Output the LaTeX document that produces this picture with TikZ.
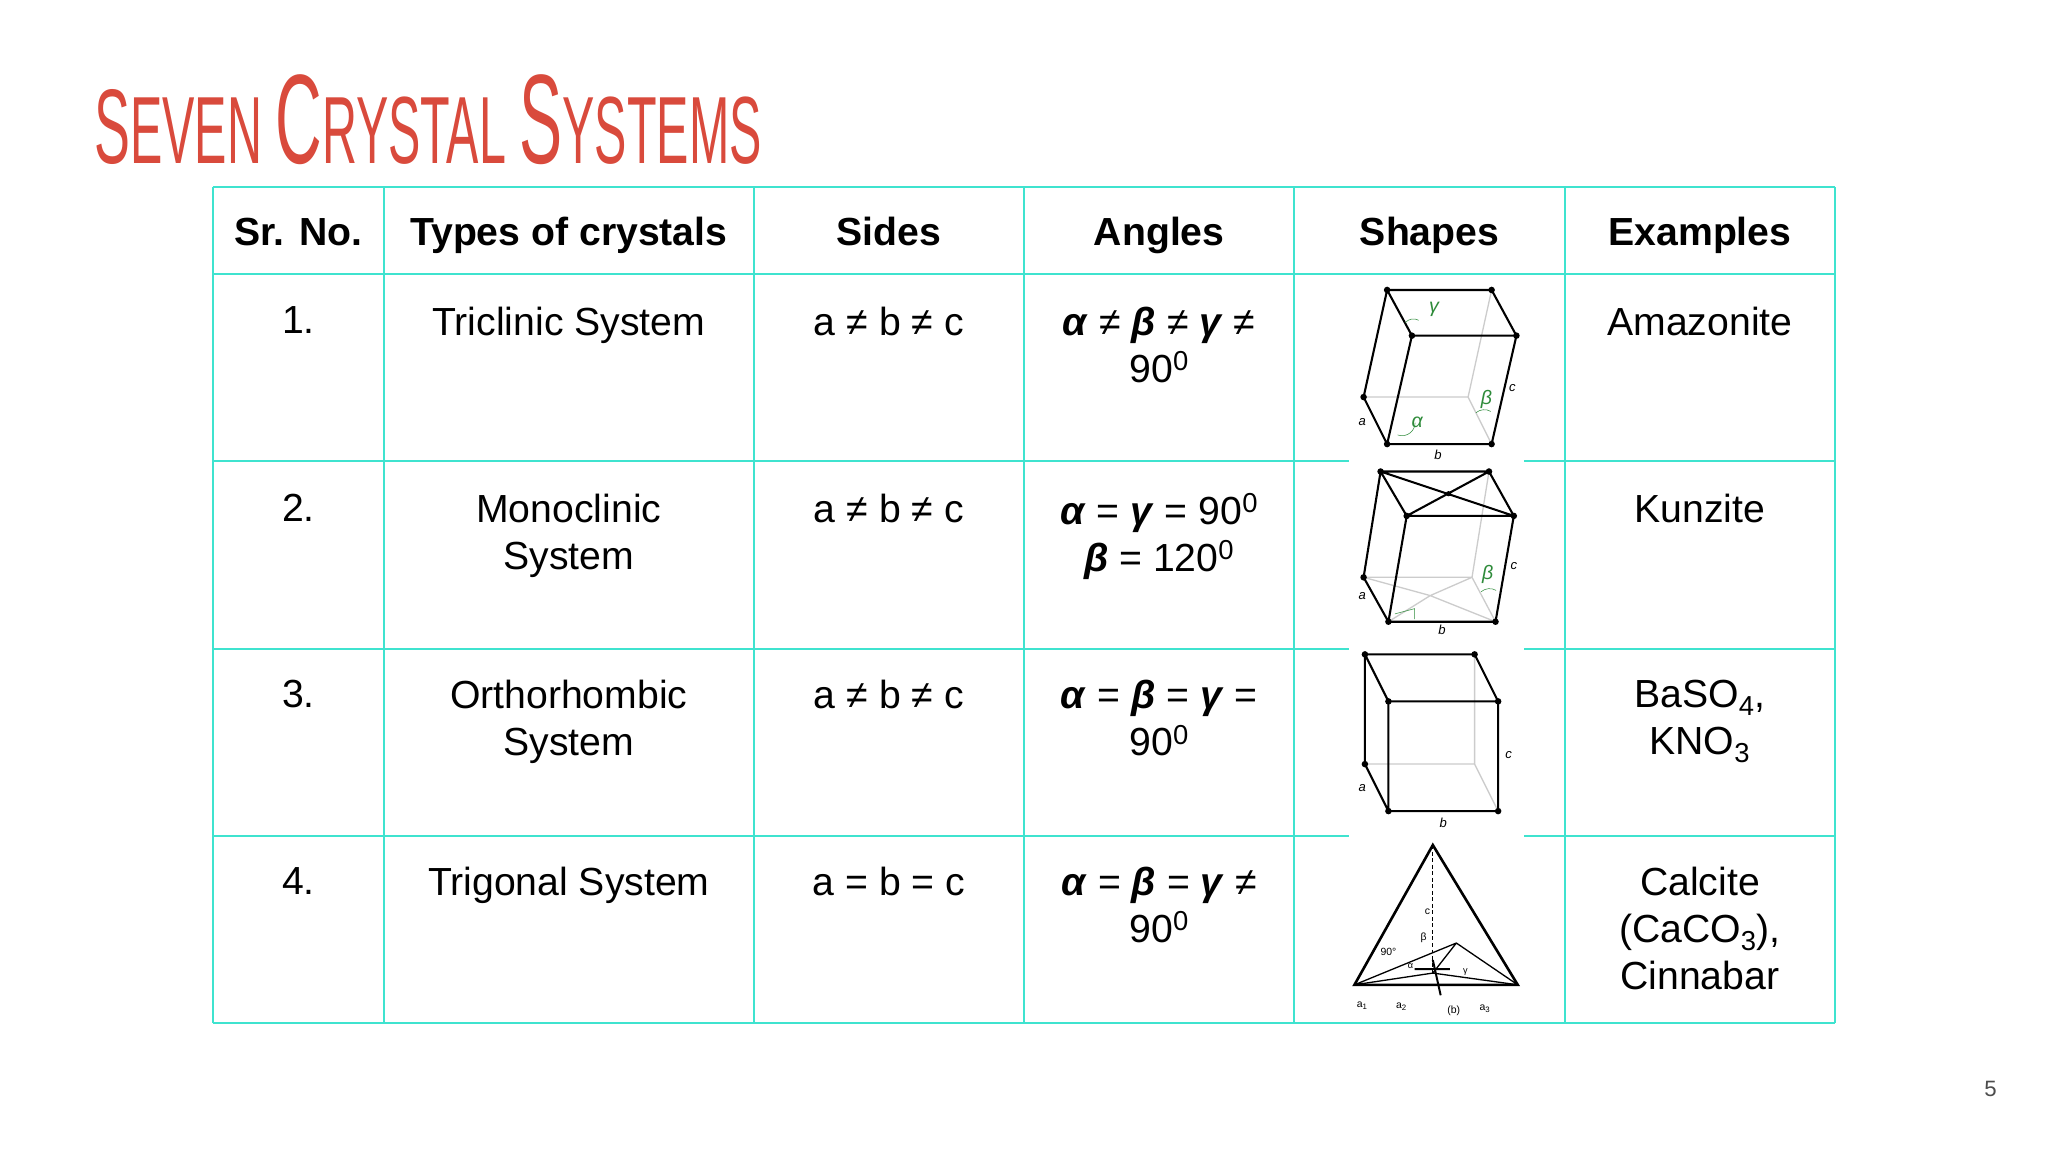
\documentclass[tikz,border=0pt]{standalone}
\usepackage{fontspec}
\setmainfont{Liberation Sans}
\newfontfamily\titlefont{Liberation Sans}
\definecolor{grid}{HTML}{3FE3CF}
\definecolor{ttl}{HTML}{D94A3C}
\definecolor{grn}{HTML}{2E8B3A}
\begin{document}
\begin{tikzpicture}[x=1pt,y=-1pt,
  cell/.style={font=\fontsize{30}{36}\selectfont,align=center,anchor=north},
  head/.style={font=\bfseries\fontsize{30}{36}\selectfont,anchor=base},
  ed/.style={line width=1.6pt,black},
  hid/.style={line width=1pt,gray!40},
  vt/.style={circle,fill=black,inner sep=0pt,minimum size=5pt},
  lbl/.style={font=\itshape\fontsize{10}{10}\selectfont,inner sep=0pt},
  glbl/.style={font=\itshape\fontsize{15}{15}\selectfont,text=grn,inner sep=0pt}]
\useasboundingbox (0,0) rectangle (1568,882);
\fill[white] (0,0) rectangle (1568,882);
% title
\node[anchor=west,text=ttl,inner sep=0pt] (title) at (72,92) {\resizebox{511pt}{68pt}{\titlefont S\fontsize{9}{9}\selectfont EVEN\ \fontsize{12}{12}\selectfont C\fontsize{9}{9}\selectfont RYSTAL\ \fontsize{12}{12}\selectfont S\fontsize{9}{9}\selectfont YSTEMS}};
% grid
\foreach \x in {163,294,577,784,991,1198,1405} \draw[grid,line width=1.5pt] (\x,143) -- (\x,783);
\foreach \y in {143,210,353,497,640,783} \draw[grid,line width=1.5pt] (163,\y) -- (1405,\y);
\fill[white] (1033,211) rectangle (1167,782);
% headers
\node[head] (h1) at (228.5,188) {Sr. No.};
\node[head] (h2) at (435.5,188) {Types of crystals};
\node[head] (h3) at (680.5,188) {Sides};
\node[head] (h4) at (887.5,188) {Angles};
\node[head] (h5) at (1094.5,188) {Shapes};
\node[head] (h6) at (1301.5,188) {Examples};
% rows
\foreach \r/\y in {1/231.5,2/374.5,3/517.5,4/660.5} \node[cell] (n\r) at (228.5,\y) {\r.};
\node[cell] (t1) at (435.5,231.5) {Triclinic System};
\node[cell] (t2) at (435.5,374.5) {Monoclinic\\System};
\node[cell] (t3) at (435.5,517.5) {Orthorhombic\\System};
\node[cell] (t4) at (435.5,660.5) {Trigonal System};
\node[cell] (s1) at (680.5,231.5) {a ≠ b ≠ c};
\node[cell] (s2) at (680.5,374.5) {a ≠ b ≠ c};
\node[cell] (s3) at (680.5,517.5) {a ≠ b ≠ c};
\node[cell] (s4) at (680.5,660.5) {a = b = c};
\def\ga{\textbf{\textit{α}}}\def\gb{\textbf{\textit{β}}}\def\gc{\textbf{\textit{γ}}}
\node[cell] (a1) at (887.5,231.5) {\ga{} ≠ \gb{} ≠ \gc{} ≠\\90\textsuperscript{0}};
\node[cell] (a2) at (887.5,374.5) {\ga{} = \gc{} = 90\textsuperscript{0}\\\gb{} = 120\textsuperscript{0}};
\node[cell] (a3) at (887.5,517.5) {\ga{} = \gb{} = \gc{} =\\90\textsuperscript{0}};
\node[cell] (a4) at (887.5,660.5) {\ga{} = \gb{} = \gc{} ≠\\90\textsuperscript{0}};
\node[cell] (e1) at (1301.5,231.5) {Amazonite};
\node[cell] (e2) at (1301.5,374.5) {Kunzite};
\node[cell] (e3) at (1301.5,517.5) {BaSO\textsubscript{4},\\KNO\textsubscript{3}};
\node[cell] (e4) at (1301.5,660.5) {Calcite\\(CaCO\textsubscript{3}),\\Cinnabar};
% triclinic
\coordinate (A) at (1062,222); \coordinate (B) at (1142,222);
\coordinate (C) at (1081,257); \coordinate (D) at (1161,257);
\coordinate (E) at (1044,304); \coordinate (F) at (1124,304);
\coordinate (G) at (1062,340); \coordinate (H) at (1142,340);
\draw[hid] (B)--(F) (E)--(F)--(H);
\draw[ed] (A)--(B)--(D)--(C)--cycle (A)--(E)--(G)--(H)--(D) (C)--(G);
\foreach \p in {A,B,C,D,E,G,H} \node[vt] at (\p) {};
\draw[grn,thin] (1076,247) arc (220:300:8);
\draw[grn,thin] (1070,333) arc (110:0:10);
\draw[grn,thin] (1130,316) arc (230:300:10);
\node[glbl] (gg) at (1098,237) {γ};
\node[glbl] (gb) at (1138,306) {β};
\node[glbl] (gal) at (1085,323) {α};
\node[lbl] (lc1) at (1158,297) {c};
\node[lbl] (la1) at (1043,323) {a};
\node[lbl] (lb1) at (1101,348) {b};
% monoclinic
\coordinate (A) at (1057,361); \coordinate (B) at (1140,361);
\coordinate (C) at (1077,395); \coordinate (D) at (1159,395);
\coordinate (E) at (1044,442); \coordinate (F) at (1127,442);
\coordinate (G) at (1063,476); \coordinate (H) at (1145,476);
\draw[hid] (B)--(F) (E)--(F)--(H) (E)--(1095,456)--(H) (G)--(1095,456)--(F);
\draw[ed] (A)--(B)--(D)--(C)--cycle (A)--(E)--(G)--(H)--(D) (C)--(G) (A)--(D) (B)--(C);
\foreach \p in {A,B,C,D,E,G,H} \node[vt] at (\p) {};
\node[vt,minimum size=4pt] at (1109,378) {};
\draw[grn,thin] (1068,470) -- (1083,466) -- (1083,474);
\draw[grn,thin] (1134,453) arc (230:300:10);
\node[glbl] (gb2) at (1139,440) {β};
\node[lbl] (lc2) at (1159,433) {c};
\node[lbl] (la2) at (1043,456) {a};
\node[lbl] (lb2) at (1104,482) {b};
% orthorhombic
\coordinate (A) at (1045,501); \coordinate (B) at (1129,501);
\coordinate (C) at (1063,537); \coordinate (D) at (1147,537);
\coordinate (E) at (1045,585); \coordinate (F) at (1129,585);
\coordinate (G) at (1063,621); \coordinate (H) at (1147,621);
\draw[hid] (B)--(F) (E)--(F)--(H);
\draw[ed] (A)--(B)--(D)--(C)--cycle (A)--(E)--(G)--(H)--(D) (C)--(G);
\foreach \p in {A,B,C,D,E,G,H} \node[vt] at (\p) {};
\node[lbl] (lc3) at (1155,578) {c};
\node[lbl] (la3) at (1043,603) {a};
\node[lbl] (lb3) at (1105,630) {b};
% trigonal
\coordinate (T) at (1097,647); \coordinate (L) at (1037,754);
\coordinate (R) at (1162,754); \coordinate (M) at (1097,745);
\coordinate (Q) at (1115,722);
\draw[ed,line width=2pt] (L)--(T)--(R)--cycle;
\draw[black,line width=1pt,densely dashed] (T)--(M);
\draw[black,line width=1pt] (L)--(Q)--(R) (L)--(M)--(R) (M)--(Q);
\draw[black,line width=1.5pt] (1083,742)--(1110,742) (1097,735)--(1103,762);
\node[lbl,font=\fontsize{8}{8}\selectfont] (tc) at (1093,698) {c};
\node[lbl,font=\fontsize{8}{8}\selectfont] (tbeta) at (1090,718) {β};
\node[lbl,font=\fontsize{8}{8}\selectfont] (t90) at (1063,729) {90°};
\node[lbl,font=\fontsize{7}{7}\selectfont] (tal) at (1080,740) {α};
\node[lbl,font=\fontsize{7}{7}\selectfont] (tgam) at (1122,744) {γ};
\node[lbl,font=\fontsize{8}{8}\selectfont] (ta1) at (1043,770) {a\textsubscript{1}};
\node[lbl,font=\fontsize{8}{8}\selectfont] (ta2) at (1073,771) {a\textsubscript{2}};
\node[lbl,font=\fontsize{8}{8}\selectfont] (tbb) at (1113,774) {(b)};
\node[lbl,font=\fontsize{8}{8}\selectfont] (ta3) at (1137,772) {a\textsubscript{3}};
% page number
\node[text=black!70,font=\fontsize{17}{17}\selectfont] (pg) at (1524,834) {5};
\end{tikzpicture}
\end{document}
